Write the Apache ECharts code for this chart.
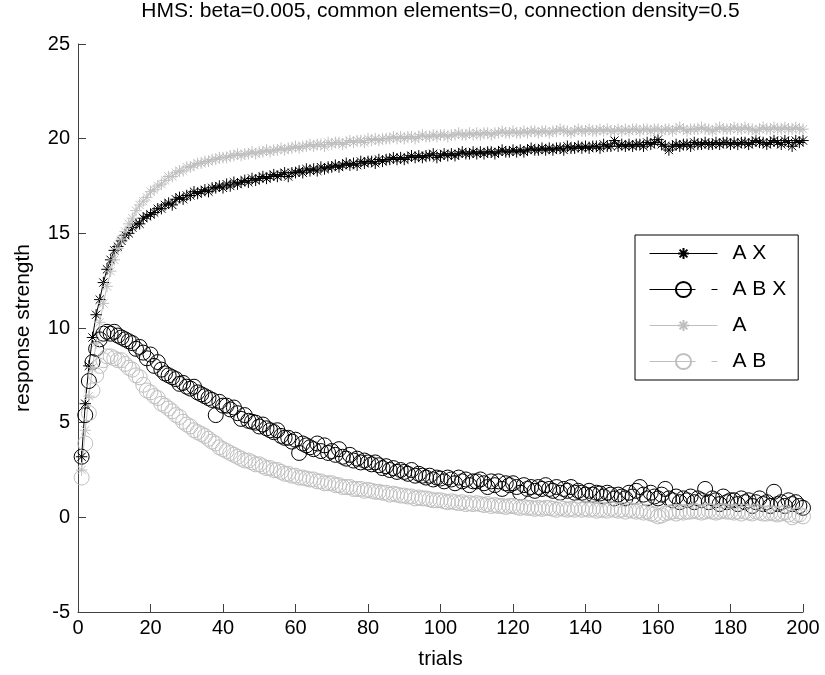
<!DOCTYPE html>
<html><head><meta charset="utf-8">
<script src="https://cdn.jsdelivr.net/npm/echarts@6/dist/echarts.min.js"></script>
<style>html,body{margin:0;padding:0;background:#fff}#c{width:825px;height:675px}</style>
</head><body><div id="c"></div>
<script>
const titleText = 'HMS: beta=0.005, common elements=0, connection density=0.5';
const seriesNames = ['A X', 'A B X', 'A', 'A B'];
const trialCount = 200;
const trials = Array.from({length: trialCount}, (_, i) => i + 1);

const AX = [
3.2, 6.0, 8.0, 9.5, 10.7, 11.5, 12.4, 13.1, 13.6, 14.1,
14.3, 14.6, 14.9, 15.0, 15.3, 15.5, 15.5, 15.8, 15.9, 16.0,
16.1, 16.3, 16.3, 16.5, 16.6, 16.5, 16.8, 16.9, 16.8, 17.0,
17.0, 17.2, 17.1, 17.2, 17.3, 17.2, 17.4, 17.4, 17.5, 17.4,
17.6, 17.5, 17.7, 17.6, 17.7, 17.8, 17.7, 17.9, 17.8, 17.9,
18.0, 17.9, 18.0, 18.1, 18.0, 18.1, 18.2, 18.0, 18.2, 18.2,
18.3, 18.2, 18.4, 18.3, 18.4, 18.3, 18.5, 18.4, 18.5, 18.5,
18.6, 18.5, 18.6, 18.7, 18.6, 18.7, 18.6, 18.8, 18.7, 18.8,
18.8, 18.7, 18.9, 18.8, 18.9, 18.9, 19.0, 18.9, 19.0, 18.9,
19.0, 19.1, 19.0, 19.1, 19.0, 19.1, 19.1, 19.2, 19.0, 19.1,
19.2, 19.1, 19.2, 19.1, 19.2, 19.3, 19.2, 19.2, 19.3, 19.2,
19.3, 19.2, 19.3, 19.3, 19.2, 19.3, 19.4, 19.3, 19.3, 19.4,
19.3, 19.4, 19.3, 19.4, 19.5, 19.4, 19.4, 19.5, 19.4, 19.5,
19.4, 19.5, 19.5, 19.4, 19.6, 19.5, 19.5, 19.6, 19.5, 19.6,
19.5, 19.6, 19.6, 19.5, 19.7, 19.6, 19.6, 19.9, 19.6, 19.7,
19.6, 19.7, 19.6, 19.7, 19.7, 19.6, 19.8, 19.7, 19.8, 19.95,
19.7, 19.6, 19.4, 19.6, 19.7, 19.6, 19.7, 19.7, 19.6, 19.8,
19.7, 19.7, 19.8, 19.7, 19.7, 19.8, 19.7, 19.8, 19.8, 19.7,
19.8, 19.7, 19.8, 19.8, 19.7, 19.8, 19.9, 19.8, 19.8, 19.7,
19.8, 19.9, 19.8, 19.7, 19.9, 19.8, 19.6, 19.9, 19.8, 19.9
];

const ABX = [
3.2, 5.4, 7.2, 8.2, 8.9, 9.4, 9.7, 9.8, 9.7, 9.8,
9.6, 9.5, 9.4, 9.3, 9.2, 8.9, 9.0, 8.7, 8.4, 8.6,
8.0, 8.2, 7.8, 7.6, 7.5, 7.4, 7.3, 7.05, 7.1, 6.9,
6.8, 6.9, 6.6, 6.5, 6.4, 6.3, 6.2, 5.4, 6.1, 5.9,
5.9, 5.7, 5.8, 5.5, 5.2, 5.4, 5.1, 5.05, 5.0, 4.8,
4.9, 4.7, 4.6, 4.5, 4.6, 4.3, 4.2, 4.2, 4.0, 4.1,
3.4, 3.9, 3.8, 3.7, 3.6, 3.9, 3.5, 3.8, 3.4, 3.5,
3.3, 3.6, 3.2, 3.1, 3.3, 3.0, 3.1, 2.9, 3.0, 2.9,
2.8, 2.9, 2.75, 2.6, 2.7, 2.5, 2.6, 2.4, 2.5, 2.4,
2.3, 2.5, 2.2, 2.3, 2.2, 2.1, 2.2, 2.0, 2.1, 2.05,
1.9, 2.1, 2.0, 1.8, 2.1, 1.9, 2.0, 1.7, 1.9, 1.9,
2.0, 1.8, 1.6, 1.9, 1.7, 1.9, 1.5, 1.8, 1.7, 1.8,
1.6, 1.3, 1.7, 1.5, 1.6, 1.4, 1.6, 1.5, 1.7, 1.5,
1.4, 1.6, 1.3, 1.5, 1.4, 1.6, 1.3, 1.4, 1.3, 1.2,
1.4, 1.2, 1.3, 1.26, 1.1, 1.3, 1.2, 1.0, 1.2, 1.1,
1.0, 1.3, 1.1, 1.4, 1.6, 1.2, 1.0, 1.3, 1.1, 1.0,
1.2, 1.5, 1.0, 0.9, 1.1, 0.8, 1.0, 0.9, 1.1, 0.8,
1.0, 0.9, 1.5, 0.8, 1.0, 0.9, 0.7, 1.1, 0.8, 0.9,
0.9, 0.7, 1.0, 0.8, 0.9, 0.6, 0.8, 1.0, 0.7, 0.8,
0.6, 1.35, 0.7, 0.8, 0.6, 0.9, 0.7, 0.8, 0.6, 0.5
];

const A = [
2.5, 4.6, 6.4, 7.9, 9.2, 10.3, 11.3, 12.2, 13.0, 13.6,
14.2, 14.7, 15.1, 15.5, 15.8, 16.2, 16.5, 16.7, 16.9, 17.2,
17.3, 17.5, 17.6, 17.8, 18.0, 18.0, 18.2, 18.3, 18.3, 18.5,
18.5, 18.6, 18.7, 18.7, 18.8, 18.8, 18.9, 18.9, 19.0, 19.0,
19.0, 19.1, 19.1, 19.2, 19.1, 19.2, 19.2, 19.3, 19.2, 19.3,
19.3, 19.4, 19.3, 19.4, 19.4, 19.5, 19.4, 19.5, 19.5, 19.6,
19.5, 19.6, 19.6, 19.7, 19.6, 19.7, 19.7, 19.6, 19.8, 19.7,
19.8, 19.8, 19.7, 19.8, 19.9, 19.8, 19.9, 19.9, 19.8, 20.0,
19.9, 20.0, 19.9, 20.0, 20.0, 20.0, 20.1, 20.0, 20.1, 20.0,
20.1, 20.1, 20.0, 20.1, 20.2, 20.1, 20.1, 20.2, 20.1, 20.2,
20.2, 20.1, 20.2, 20.2, 20.3, 20.2, 20.2, 20.3, 20.2, 20.3,
20.2, 20.3, 20.3, 20.2, 20.3, 20.3, 20.4, 20.3, 20.3, 20.4,
20.3, 20.3, 20.4, 20.3, 20.4, 20.4, 20.3, 20.4, 20.4, 20.3,
20.4, 20.4, 20.5, 20.4, 20.4, 20.3, 20.4, 20.5, 20.4, 20.4,
20.5, 20.4, 20.4, 20.5, 20.4, 20.5, 20.4, 20.4, 20.5, 20.4,
20.5, 20.4, 20.5, 20.5, 20.4, 20.5, 20.5, 20.4, 20.5, 20.5,
20.4, 20.5, 20.5, 20.4, 20.5, 20.6, 20.5, 20.4, 20.5, 20.5,
20.5, 20.6, 20.5, 20.5, 20.4, 20.5, 20.6, 20.5, 20.5, 20.5,
20.6, 20.5, 20.5, 20.6, 20.5, 20.5, 20.4, 20.5, 20.6, 20.5,
20.5, 20.6, 20.5, 20.5, 20.6, 20.5, 20.5, 20.6, 20.5, 20.5
];

const AB = [
2.1, 3.9, 5.5, 6.7, 7.5, 8.0, 8.3, 8.5, 8.5, 8.4,
8.3, 8.3, 8.1, 7.9, 7.8, 7.5, 7.4, 7.0, 6.7, 6.6,
6.4, 6.3, 6.0, 5.9, 5.75, 5.6, 5.4, 5.3, 5.05, 4.9,
4.8, 4.6, 4.5, 4.4, 4.3, 4.15, 4.0, 3.9, 3.7, 3.6,
3.5, 3.4, 3.3, 3.2, 3.1, 3.0, 3.0, 2.9, 2.8, 2.8,
2.7, 2.6, 2.6, 2.5, 2.5, 2.4, 2.3, 2.3, 2.2, 2.2,
2.1, 2.1, 2.05, 2.0, 2.0, 1.9, 1.9, 1.8, 1.8, 1.8,
1.7, 1.7, 1.6, 1.6, 1.6, 1.5, 1.5, 1.5, 1.4, 1.45,
1.4, 1.35, 1.35, 1.3, 1.3, 1.2, 1.25, 1.2, 1.15, 1.15,
1.1, 1.1, 1.0, 1.05, 1.0, 1.0, 0.95, 0.9, 0.9, 0.9,
0.85, 0.8, 0.85, 0.8, 0.75, 0.8, 0.7, 0.75, 0.7, 0.75,
0.7, 0.65, 0.7, 0.6, 0.65, 0.6, 0.6, 0.55, 0.6, 0.6,
0.55, 0.5, 0.55, 0.5, 0.5, 0.45, 0.5, 0.45, 0.5, 0.5,
0.45, 0.4, 0.5, 0.45, 0.4, 0.45, 0.4, 0.5, 0.4, 0.45,
0.4, 0.45, 0.35, 0.4, 0.4, 0.35, 0.45, 0.4, 0.35, 0.4,
0.3, 0.4, 0.35, 0.3, 0.35, 0.25, 0.3, 0.2, 0.15, 0.05,
0.1, 0.2, 0.25, 0.3, 0.2, 0.3, 0.25, 0.3, 0.3, 0.35,
0.3, 0.25, 0.3, 0.35, 0.3, 0.25, 0.3, 0.35, 0.3, 0.3,
0.25, 0.3, 0.2, 0.3, 0.25, 0.2, 0.3, 0.25, 0.2, 0.2,
0.25, 0.2, 0.15, 0.2, 0.25, 0.15, 0.0, 0.1, 0.15, 0.05
];

const FONT = '"Liberation Sans", Arial, Helvetica, sans-serif';
const BLACK = '#000000';
const GRAY = '#bfbfbf';
const STAR = 'path://M-1.4,-1.4M1.4,1.4M0,-1L0,1M-1,0L1,0M-0.72,-0.72L0.72,0.72M-0.72,0.72L0.72,-0.72';

function pairs(vals) { return trials.map((t, i) => [t, vals[i]]); }

function mk(name, vals, color, marker, size, showLine) {
  return {
    name: name, type: 'line', data: pairs(vals),
    symbol: marker, symbolSize: size, showSymbol: true,
    lineStyle: { color: color, width: 1, opacity: showLine ? 1 : 0 },
    itemStyle: { color: 'rgba(0,0,0,0)', borderColor: color, borderWidth: 1 },
    emphasis: { disabled: true }, silent: true, animation: false, z: 2
  };
}

const chart = echarts.init(document.getElementById('c'), null, { renderer: 'canvas' });
chart.setOption({
  backgroundColor: '#ffffff',
  animation: false,
  textStyle: { fontFamily: FONT },
  title: {
    text: titleText, left: 440.5, top: 1, textAlign: 'center', padding: 0,
    textStyle: { fontFamily: FONT, fontSize: 21, fontWeight: 'normal', color: '#000' }
  },
  grid: { left: 78, right: 22, top: 44, bottom: 61, containLabel: false },
  legend: {
    orient: 'vertical', left: 635, top: 235,
    itemWidth: 68, itemHeight: 19, itemGap: 15,
    padding: [8, 12, 8, 14],
    backgroundColor: '#ffffff', borderColor: '#000000', borderWidth: 1, borderRadius: 0,
    textStyle: { fontFamily: FONT, fontSize: 21, color: '#000', padding: [0, 0, 0, 10] },
    selectedMode: false,
    data: [
      { name: seriesNames[0], lineStyle: { color: BLACK, width: 1, opacity: 1, type: 'solid' } },
      { name: seriesNames[1], lineStyle: { color: BLACK, width: 1, opacity: 1, type: [46, 16] } },
      { name: seriesNames[2], lineStyle: { color: GRAY, width: 1, opacity: 1, type: 'solid' } },
      { name: seriesNames[3], lineStyle: { color: GRAY, width: 1, opacity: 1, type: [46, 16] } }
    ]
  },
  xAxis: {
    type: 'value', min: 0, max: 200, interval: 20,
    name: 'trials', nameLocation: 'middle', nameGap: 37,
    nameTextStyle: { fontFamily: FONT, fontSize: 21, color: '#000' },
    axisLine: { show: true, onZero: false, lineStyle: { color: '#404040', width: 1 } },
    axisTick: { show: true, inside: true, length: 8, lineStyle: { color: '#404040' } },
    axisLabel: { fontFamily: FONT, fontSize: 20, color: '#000', margin: 6 },
    splitLine: { show: false }
  },
  yAxis: {
    type: 'value', min: -5, max: 25, interval: 5,
    name: 'response strength', nameLocation: 'middle', nameGap: 44,
    nameTextStyle: { fontFamily: FONT, fontSize: 21, color: '#000' },
    axisLine: { show: true, onZero: false, lineStyle: { color: '#404040', width: 1 } },
    axisTick: { show: true, inside: true, length: 8, lineStyle: { color: '#404040' } },
    axisLabel: { fontFamily: FONT, fontSize: 20, color: '#000', margin: 8 },
    splitLine: { show: false }
  },
  series: [
    mk(seriesNames[0], AX, BLACK, STAR, 16, true),
    mk(seriesNames[1], ABX, BLACK, 'circle', 15, false),
    mk(seriesNames[2], A, GRAY, STAR, 16, true),
    mk(seriesNames[3], AB, GRAY, 'circle', 15, false)
  ]
});
</script></body></html>
